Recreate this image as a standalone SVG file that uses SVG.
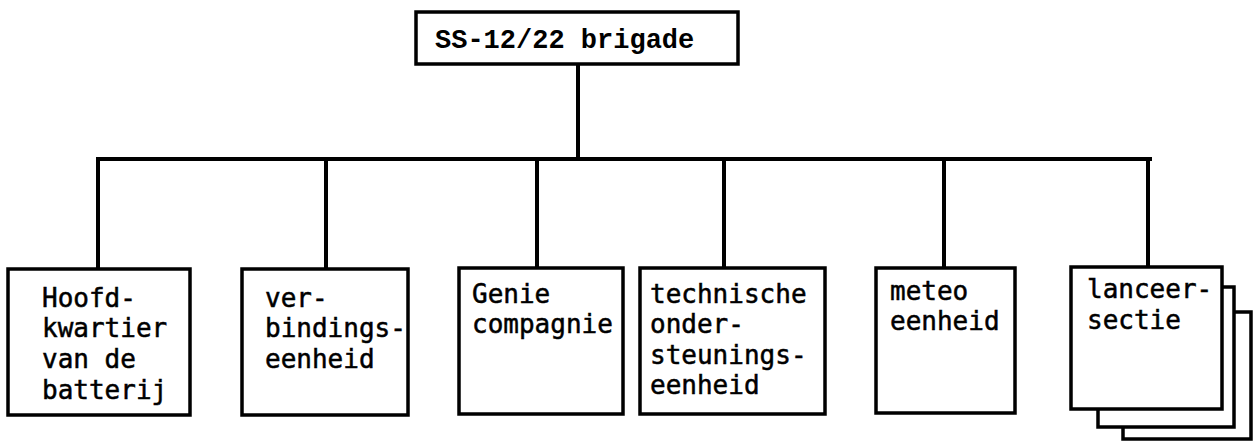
<svg xmlns="http://www.w3.org/2000/svg" width="1253" height="442" viewBox="0 0 1253 442">
<style>
.box{fill:#fff;stroke:#000;stroke-width:3.5}
.ln{fill:none;stroke:#000;stroke-width:4;stroke-linecap:square}
.t{font-family:"DejaVu Sans Mono","Liberation Mono",monospace;font-size:26px;fill:#000;stroke:#000;stroke-width:0.5}
.top{font-family:"Liberation Mono","DejaVu Sans Mono",monospace;font-size:27px;font-weight:bold;fill:#000}
</style>
<rect width="1253" height="442" fill="#fff"/>
<g id="connectors">
<path class="ln" d="M578 64V159M98 159H1150M98 159V268M326 159V268M537 159V268M724 159V268M944 159V268M1148 159V268"/>
</g>
<g id="brigade">
<rect class="box" x="416" y="12" width="322" height="52"/>
<text class="top" x="435" y="48">SS-12/22 brigade</text>
</g>
<g id="hoofdkwartier">
<rect class="box" x="8" y="269" width="182" height="146"/>
<text class="t" x="42" y="307">Hoofd-</text>
<text class="t" x="42" y="337">kwartier</text>
<text class="t" x="42" y="368">van de</text>
<text class="t" x="42" y="399">batterij</text>
</g>
<g id="verbindingseenheid">
<rect class="box" x="242" y="269" width="166" height="146"/>
<text class="t" x="265" y="307">ver-</text>
<text class="t" x="265" y="337">bindings-</text>
<text class="t" x="265" y="368">eenheid</text>
</g>
<g id="genie">
<rect class="box" x="459" y="268" width="164" height="146"/>
<text class="t" x="472" y="303">Genie</text>
<text class="t" x="472" y="333">compagnie</text>
</g>
<g id="technische">
<rect class="box" x="640" y="268" width="185" height="146"/>
<text class="t" x="650" y="303">technische</text>
<text class="t" x="650" y="333">onder-</text>
<text class="t" x="650" y="364">steunings-</text>
<text class="t" x="650" y="394">eenheid</text>
</g>
<g id="meteo">
<rect class="box" x="876" y="268" width="139" height="145"/>
<text class="t" x="890" y="300">meteo</text>
<text class="t" x="890" y="330">eenheid</text>
</g>
<g id="lanceersectie">
<rect class="box" x="1123" y="312" width="128" height="127"/>
<rect class="box" x="1098" y="287" width="136" height="140"/>
<rect class="box" x="1071" y="267" width="151" height="142"/>
<text class="t" x="1087" y="298">lanceer-</text>
<text class="t" x="1087" y="329">sectie</text>
</g>
</svg>
